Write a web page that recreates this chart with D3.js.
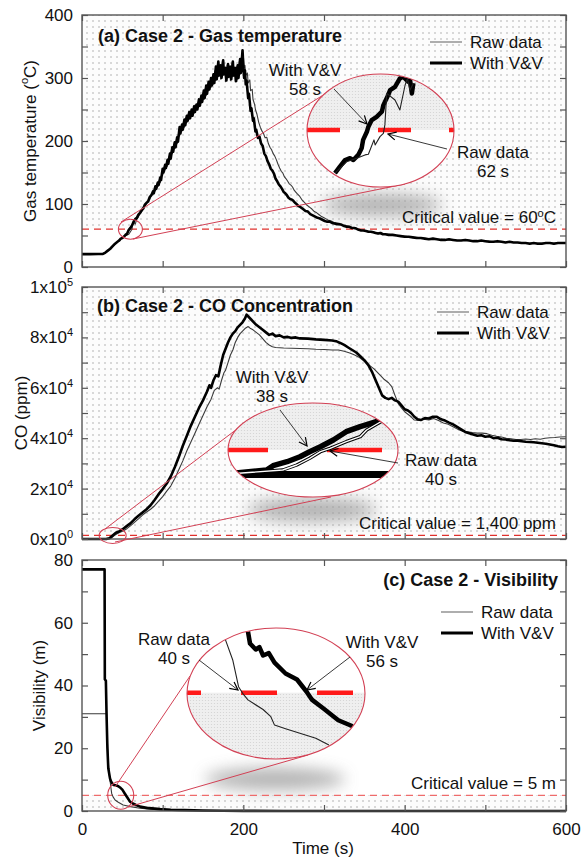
<!DOCTYPE html>
<html><head><meta charset="utf-8">
<script src="https://cdn.jsdelivr.net/npm/d3@7/dist/d3.min.js"></script>
<style>body{margin:0;background:#fff}svg{display:block;font-family:Arial,"Liberation Sans",sans-serif}</style>
</head><body><svg id="c" width="584" height="858"></svg>
<script>
// ---------------- DATA ----------------
const timeTicks = [0,100,200,300,400,500,600];
const timeLabels = [0,200,400,600];
const seriesNames = ["Raw data","With V&V"];

// (a) gas temperature [time s, °C]
const tempRaw = [[0,20.5],[26,20.8],[29,23],[32,26],[35,29],[38,32],[41,36],[44,40],[46,41],[48,44],[50,46],[52,49],[54,50],[56,51],[58,52],[60,56],[62,60],[63,70],[64,72],[66,68],[68,76],[70,80],[72,85],[74,88],[76,95],[78,97],[80,100],[82,106],[84,108],[86,115],[88,118],[90,124],[91,121],[93,132],[94,128],[96,138],[97,134],[99,150],[100,146],[102,158],[103,154],[105,166],[106,160],[108,176],[109,170],[111,186],[112,180],[114,195],[115,188],[117,202],[118,196],[120,214],[121,208],[123,224],[124,216],[126,230],[127,222],[129,238],[130,229],[132,244],[133,235],[135,248],[136,240],[138,252],[139,244],[141,257],[142,250],[144,262],[145,254],[147,270],[148,260],[150,276],[151,266],[153,284],[154,272],[156,290],[157,280],[159,296],[160,285],[162,302],[163,290],[165,312],[166,296],[168,322],[169,302],[171,318],[172,298],[174,326],[175,304],[177,314],[178,294],[180,320],[181,300],[183,316],[184,296],[186,324],[187,302],[189,314],[190,294],[192,318],[193,298],[195,326],[196,306],[198,336],[199,312],[200,336],[201,316],[202,320],[203,304],[205,308],[206,292],[208,297],[209,280],[211,282],[212,266],[214,258],[215,250],[217,242],[219,230],[221,222],[223,216],[225,212],[227,205],[229,206],[231,196],[233,190],[235,186],[237,180],[239,176],[241,170],[243,163],[245,157],[247,152],[249,149],[251,143],[253,140],[255,136],[257,132],[259,130],[261,127],[263,122],[265,119],[267,116],[270,112],[273,106],[276,102],[279,98],[282,95],[285,92],[288,88],[291,86],[294,83],[297,80],[300,78],[303,76],[306,74],[309,73],[312,71],[315,70],[318,69],[321,68],[324,66],[327,66],[330,65],[333,64],[336,62],[339,61],[342,60],[345,59],[348,58],[351,57],[354,57],[357,56],[360,55],[363,55],[366,54],[369,53],[372,53],[376,52],[380,52],[385,51],[390,50],[395,50],[400,49],[405,48],[410,47],[415,47],[420,46],[425,45],[430,45],[435,44],[440,44],[445,44],[450,43],[455,43],[460,43],[465,42],[470,42],[475,42],[480,42],[485,42],[490,41],[495,41],[500,41],[505,41],[510,40],[520,40],[530,39],[540,39],[550,38],[560,38],[570,38],[580,38],[590,38],[600,38]];
const tempVV = [[0,20.5],[10,20.5],[20,20.6],[26,20.8],[29,23],[32,26],[35,29],[38,33],[41,37],[44,40],[46,42],[48,45],[50,46],[52,48],[54,51],[56,53],[58,59],[60,62],[62,66],[64,72],[66,76],[68,78],[70,83],[72,86],[74,90],[76,93],[78,99],[80,102],[82,104],[84,111],[86,114],[88,120],[89,117],[91,128],[92,124],[94,134],[95,130],[97,142],[98,138],[100,156],[101,150],[103,162],[104,157],[106,170],[107,164],[109,180],[110,172],[112,190],[113,183],[115,198],[116,190],[118,206],[119,199],[121,222],[122,212],[124,226],[125,218],[127,234],[128,225],[130,240],[131,232],[133,246],[134,236],[136,250],[137,240],[139,255],[140,246],[142,258],[143,250],[145,266],[146,256],[148,272],[149,262],[151,280],[152,268],[154,288],[155,275],[157,294],[158,282],[160,300],[161,288],[163,306],[164,292],[166,318],[167,298],[169,326],[170,304],[172,320],[173,300],[175,328],[176,306],[178,316],[179,296],[181,322],[182,302],[184,318],[185,298],[187,326],[188,304],[190,316],[191,295],[193,320],[194,300],[196,330],[197,308],[199,344],[200,318],[201,300],[202,312],[203,290],[204,296],[206,268],[207,275],[209,248],[210,252],[212,232],[213,236],[215,215],[216,218],[218,205],[220,207],[222,196],[224,192],[226,180],[228,176],[230,168],[232,163],[234,156],[236,153],[238,148],[240,140],[242,136],[244,131],[246,128],[248,124],[250,119],[252,117],[254,114],[256,110],[258,108],[260,107],[262,105],[264,102],[266,100],[268,97],[271,95],[274,92],[277,89],[280,88],[283,84],[286,82],[289,80],[292,78],[295,77],[298,75],[301,73],[304,72],[307,72],[310,70],[313,69],[316,68],[319,68],[322,67],[325,65],[328,64],[331,64],[334,62],[337,62],[340,61],[343,59],[346,58],[349,58],[352,57],[355,56],[358,56],[361,55],[364,54],[367,53],[370,54],[373,52],[376,52],[380,51],[385,51],[390,50],[395,49],[400,48],[405,48],[410,47],[415,46],[420,46],[425,45],[430,44],[435,45],[440,44],[445,43],[450,43],[455,44],[460,43],[465,42],[470,42],[475,43],[480,42],[485,41],[490,41],[495,42],[500,41],[505,40],[510,40],[515,41],[520,40],[525,39],[530,40],[535,39],[540,39],[545,38],[550,38],[555,37],[560,38],[565,37],[570,37],[575,38],[580,38],[585,37],[590,38],[595,38],[600,38]];
const tempTicks = [0,100,200,300,400];
const tempMinor = [50,150,250,350];
const tempCritical = 60;
// zoomed detail around 60 °C crossing
const tempRawZoom = [[49.2,45.6],[52.3,49.4],[55,50.6],[57.2,51.7],[58.1,51.9],[59.6,56.7],[59.9,55],[61.2,57.8],[62.1,58.9],[62.5,61.7],[63,72.2],[65.2,70],[66.5,66.7],[67.9,75],[68.5,77.2],[69.2,73.3],[70.1,75.6]];
const tempVVZoom = [[49.2,45.6],[50.5,47.8],[51.9,50],[53.2,50.6],[54.1,50],[55.4,51.7],[56.3,53.9],[56.7,56.7],[57.7,59.4],[58.1,61.1],[59,63.3],[60.3,64.4],[61.7,66.1],[62.1,68.3],[63.4,71.7],[63.9,73.3],[65.2,74.4],[66.5,77.2],[67.4,77.8],[68.7,76.1],[69.2,76.7],[69.7,72.2],[70.1,75.6]];

// (b) CO concentration [time s, x10^4 ppm]
const coRaw = [[0,0],[32,0],[36,0.03],[40,0.14],[44,0.22],[48,0.28],[52,0.34],[56,0.42],[60,0.52],[65,0.66],[70,0.8],[75,0.95],[80,1.07],[85,1.18],[90,1.32],[95,1.5],[100,1.68],[105,1.9],[110,2.1],[115,2.4],[120,2.75],[125,3.1],[130,3.5],[135,3.85],[140,4.2],[145,4.55],[150,4.9],[155,5.25],[160,5.55],[164,5.9],[168,6.0],[170,5.95],[173,6.3],[176,6.6],[178,6.7],[181,7.0],[184,7.3],[187,7.5],[190,7.8],[193,8.0],[196,8.15],[199,8.25],[202,8.35],[206,8.43],[209,8.35],[212,8.3],[216,8.2],[220,8.1],[224,7.95],[228,7.8],[232,7.7],[236,7.63],[240,7.6],[250,7.58],[260,7.57],[270,7.56],[280,7.55],[290,7.53],[300,7.52],[310,7.5],[318,7.5],[325,7.45],[332,7.38],[338,7.3],[344,7.2],[350,7.05],[356,6.9],[362,6.75],[368,6.55],[374,6.35],[380,6.2],[384,6.05],[388,5.7],[392,5.38],[396,5.2],[400,5.05],[404,4.95],[408,4.85],[412,4.72],[418,4.7],[424,4.75],[430,4.72],[436,4.78],[442,4.7],[448,4.6],[454,4.55],[460,4.45],[466,4.35],[472,4.28],[478,4.25],[484,4.22],[490,4.2],[496,4.2],[502,4.18],[508,4.12],[514,4.08],[520,4.05],[526,4.0],[532,3.98],[538,3.95],[544,3.95],[550,3.97],[556,3.95],[562,3.98],[568,3.96],[574,4.0],[580,4.02],[586,4.03],[592,4.05],[600,4.06]];
const coVV = [[0,0],[30,0],[34,0.03],[38,0.14],[42,0.25],[46,0.3],[50,0.38],[55,0.5],[60,0.62],[65,0.78],[70,0.92],[75,1.05],[80,1.18],[85,1.34],[90,1.55],[95,1.78],[100,1.98],[105,2.2],[110,2.48],[115,2.85],[120,3.25],[125,3.7],[130,4.1],[135,4.5],[140,4.85],[145,5.2],[150,5.5],[155,5.85],[158,6.1],[160,6.0],[163,6.3],[166,6.5],[169,6.45],[172,6.9],[175,7.3],[178,7.55],[181,7.8],[184,8.0],[187,8.15],[190,8.25],[193,8.4],[196,8.5],[199,8.6],[202,8.75],[204,8.9],[207,8.8],[210,8.7],[213,8.6],[216,8.5],[220,8.4],[224,8.3],[228,8.2],[232,8.1],[236,8.15],[240,8.05],[245,8.08],[250,8.0],[255,8.02],[260,7.98],[265,8.0],[270,7.96],[280,7.95],[290,7.92],[300,7.9],[310,7.88],[315,7.85],[320,7.78],[325,7.7],[330,7.6],[335,7.5],[340,7.4],[345,7.25],[350,7.1],[355,6.9],[360,6.6],[364,6.3],[368,6.0],[372,5.7],[376,5.6],[380,5.55],[384,5.6],[388,5.5],[392,5.45],[396,5.3],[400,5.15],[404,5.1],[408,5.0],[412,4.85],[416,4.75],[420,4.72],[425,4.8],[430,4.78],[435,4.85],[440,4.85],[445,4.75],[450,4.7],[455,4.62],[460,4.55],[465,4.45],[470,4.35],[475,4.25],[480,4.2],[485,4.15],[490,4.1],[495,4.12],[500,4.06],[505,4.08],[510,4.0],[515,4.02],[520,3.96],[525,3.95],[530,3.92],[535,3.9],[540,3.9],[545,3.88],[550,3.86],[555,3.85],[560,3.84],[565,3.82],[570,3.8],[575,3.78],[580,3.75],[585,3.72],[590,3.68],[595,3.65],[600,3.66]];
const coTicks = [0,2,4,6,8,10];
const coMinor = [1,3,5,7,9];
const coTickMantissa = ["0","2","4","6","8","1"];
const coTickExponent = ["0","4","4","4","4","5"];
const coCritical = 0.14; // 1,400 ppm
const coRawZoom = [[30,0],[35.7,0.0257],[37,0.0543],[38.2,0.0926],[39.2,0.1303],[40.1,0.1497],[41.6,0.1874],[42.9,0.216],[43.5,0.2543],[45.1,0.3114]];
const coVVZoom = [[30,0],[34.2,0.0257],[34.8,0.0503],[36.1,0.0731],[37.3,0.1017],[38.2,0.1303],[39.2,0.1589],[40.4,0.1971],[41.6,0.2446],[42.9,0.2731],[44.4,0.3017],[45.1,0.3211]];

// (c) visibility [time s, m]
const visRaw = [[0,31],[30.5,31],[31.5,22],[32.5,16],[33.5,12],[34.7,9.9],[35.8,7.5],[36.8,5.6],[38.5,4.5],[41,3.5],[45,2.8],[51,1.9],[60,1.4],[72,0.9],[85,0.55],[97,0.3],[120,0.12],[150,0.05],[200,0.01],[600,0]];
const visVV = [[0,77],[28,77],[28.3,42],[29.6,41.5],[30.5,30],[31.5,20],[32.6,13.6],[34.7,10.4],[36,9.4],[39,8.3],[42,8.2],[45,7.9],[48,7.3],[50,6.8],[53,5.6],[56,4.4],[59.5,3.0],[63,2.4],[67,1.9],[72,1.4],[80,1.0],[90,0.75],[97,0.6],[110,0.42],[127,0.3],[150,0.18],[175,0.1],[200,0.05],[250,0.02],[300,0],[600,0]];
const visTicks = [0,20,40,60,80];
const visMinor = [10,30,50,70];
const visCritical = 5;
const visRawZoom = [[36.3,9.4],[38.1,7.7],[39.5,5.5],[40.5,4.95],[41.8,4.4],[45.5,3.6],[47.4,3.0],[48.3,2.3],[51,2.0],[54.7,1.6],[58.4,1.2],[61.6,0.64]];
const visVVZoom = [[41.8,10.1],[42.3,9.1],[43.7,8.6],[44.6,8.8],[45.5,8.1],[46.9,8.3],[48.3,7.5],[51,6.6],[53.8,6.1],[56.1,5.1],[57.5,4.4],[60.2,3.7],[63.9,2.7],[67.4,2.2]];

// ---------------- DRAW ----------------
const svg = d3.select("#c");
const defs = svg.append("defs");
const X0 = 82, X1 = 566;
const RED = "#d24054";

const p1 = defs.append("pattern").attr("id","dots").attr("width",6).attr("height",6).attr("patternUnits","userSpaceOnUse");
p1.append("rect").attr("width",6).attr("height",6).attr("fill","#fcfcfc");
p1.append("circle").attr("cx",3).attr("cy",3).attr("r",0.7).attr("fill","#9a9a9a");
const p2 = defs.append("pattern").attr("id","fine").attr("width",3).attr("height",3).attr("patternUnits","userSpaceOnUse");
p2.append("rect").attr("width",3).attr("height",3).attr("fill","#efefef");
p2.append("circle").attr("cx",1.5).attr("cy",1.5).attr("r",0.6).attr("fill","#d2d2d2");
const blur = defs.append("filter").attr("id","blur").attr("x","-50%").attr("y","-200%").attr("width","200%").attr("height","500%");
blur.append("feGaussianBlur").attr("stdDeviation",8);
const mk = defs.append("marker").attr("id","arr").attr("viewBox","0 0 10 10").attr("refX",9).attr("refY",5)
  .attr("markerWidth",10).attr("markerHeight",10).attr("markerUnits","userSpaceOnUse").attr("orient","auto");
mk.append("path").attr("d","M1,1 L9,5 L1,9").attr("fill","none").attr("stroke","#000").attr("stroke-width",1.2);

const x = d3.scaleLinear().domain([0,600]).range([X0,X1]);

function panel(cfg){
  const g = svg.append("g");
  const y = cfg.y;
  const [top,bot] = [y.range()[1], y.range()[0]];
  const cy = y(cfg.critical);
  if (cfg.dangerAbove) g.append("rect").attr("x",X0).attr("y",top).attr("width",X1-X0).attr("height",cy-top).attr("fill","url(#dots)");
  else g.append("rect").attr("x",X0).attr("y",cy).attr("width",X1-X0).attr("height",bot-cy).attr("fill","url(#dots)");
  g.append("ellipse").attr("cx",cfg.shadow[0]).attr("cy",cfg.shadow[1]).attr("rx",cfg.shadow[2]).attr("ry",cfg.shadow[3])
    .attr("fill","#9a9a9a").attr("opacity",0.75).attr("filter","url(#blur)");
  g.append("line").attr("x1",X0).attr("x2",X1).attr("y1",cy).attr("y2",cy)
    .attr("stroke",cfg.critColor).attr("stroke-width",1.3).attr("stroke-dasharray","7,5");
  const line = d3.line().x(d=>x(d[0])).y(d=>y(d[1]));
  g.append("path").datum(cfg.raw).attr("d",line).attr("fill","none").attr("stroke","#3a3a3a").attr("stroke-width",1.1).attr("stroke-linejoin","round");
  g.append("path").datum(cfg.vv).attr("d",line).attr("fill","none").attr("stroke","#000").attr("stroke-width",2.6).attr("stroke-linejoin","round");
  const allY = cfg.ticks.concat(cfg.minor);
  const la = g.append("g").attr("transform",`translate(${X0},0)`)
    .call(d3.axisLeft(y).tickValues(allY).tickSize(-6).tickPadding(9).tickFormat(d=>cfg.ticks.includes(d)?String(d):""));
  g.append("g").attr("transform",`translate(${X1},0)`).call(d3.axisRight(y).tickValues(allY).tickSize(-6).tickFormat(""));
  g.append("g").attr("transform",`translate(0,${top})`).call(d3.axisTop(x).tickValues(timeTicks).tickSize(-6).tickFormat(""));
  g.append("g").attr("transform",`translate(0,${bot})`)
    .call(d3.axisBottom(x).tickValues(timeTicks).tickSize(-6).tickPadding(12).tickFormat(d=>cfg.xlabels && timeLabels.includes(d)?String(d):""));
  g.selectAll(".domain").remove();
  g.selectAll(".tick line").attr("stroke","#555").attr("stroke-width",1.2);
  g.selectAll(".tick text").attr("font-size",17).attr("fill","#111").attr("font-family",'Arial,"Liberation Sans",sans-serif');
  if (cfg.tickLabel) la.selectAll(".tick text").each(function(d){ cfg.tickLabel(d3.select(this), d); });
  g.append("rect").attr("x",X0).attr("y",top).attr("width",X1-X0).attr("height",bot-top)
    .attr("fill","none").attr("stroke","#555").attr("stroke-width",1.4);
  const yl = g.append("text").attr("transform",`translate(${cfg.ylabelX},${(top+bot)/2}) rotate(-90)`)
    .attr("text-anchor","middle").attr("dominant-baseline","central").attr("font-size",17).attr("fill","#111");
  cfg.ylabel(yl);
  const sc = [x(cfg.spot[0]), y(cfg.spot[1])];
  cfg.connectors.forEach(c=>{
    g.append("line").attr("x1",c[0]).attr("y1",c[1]).attr("x2",c[2]).attr("y2",c[3]).attr("stroke",RED).attr("stroke-width",1);
  });
  g.append("ellipse").attr("cx",sc[0]).attr("cy",sc[1]).attr("rx",cfg.spotR[0]).attr("ry",cfg.spotR[1])
    .attr("fill","none").attr("stroke",RED).attr("stroke-width",1.1);
  const E = cfg.ell;
  const cid = "clip"+cfg.id;
  defs.append("clipPath").attr("id",cid).append("ellipse").attr("cx",E[0]).attr("cy",E[1]).attr("rx",E[2]).attr("ry",E[3]);
  const ig = g.append("g").attr("clip-path",`url(#${cid})`);
  ig.append("rect").attr("x",E[0]-E[2]).attr("y",E[1]-E[3]).attr("width",2*E[2]).attr("height",2*E[3]).attr("fill","#fff");
  const zx = cfg.zx, zy = cfg.zy;
  const zc = zy(cfg.critical);
  if (cfg.dangerAbove) ig.append("rect").attr("x",E[0]-E[2]).attr("y",E[1]-E[3]).attr("width",2*E[2]).attr("height",zc-(E[1]-E[3])).attr("fill","url(#fine)");
  else ig.append("rect").attr("x",E[0]-E[2]).attr("y",zc).attr("width",2*E[2]).attr("height",E[1]+E[3]-zc).attr("fill","url(#fine)");
  if (cfg.zBand) ig.append("line").attr("x1",E[0]-E[2]).attr("x2",E[0]+E[2]).attr("y1",zy(0)).attr("y2",zy(0)).attr("stroke","#000").attr("stroke-width",7);
  ig.append("line").attr("x1",cfg.dashStart).attr("x2",E[0]+E[2]).attr("y1",zc).attr("y2",zc)
    .attr("stroke","#ff1a1a").attr("stroke-width",4.5).attr("stroke-dasharray",cfg.dash);
  const zl = d3.line().x(d=>zx(d[0])).y(d=>zy(d[1]));
  ig.append("path").datum(cfg.vvZ).attr("d",zl).attr("fill","none").attr("stroke","#000").attr("stroke-width",cfg.zThick).attr("stroke-linejoin","round");
  if (cfg.zOutline) {
    ig.append("path").datum(cfg.rawZ).attr("d",zl).attr("fill","none").attr("stroke","#000").attr("stroke-width",3.4).attr("stroke-linejoin","round");
    ig.append("path").datum(cfg.rawZ).attr("d",zl).attr("fill","none").attr("stroke","#fff").attr("stroke-width",1.4).attr("stroke-linejoin","round");
  } else {
    ig.append("path").datum(cfg.rawZ).attr("d",zl).attr("fill","none").attr("stroke","#222").attr("stroke-width",1.1).attr("stroke-linejoin","round");
  }
  g.append("ellipse").attr("cx",E[0]).attr("cy",E[1]).attr("rx",E[2]).attr("ry",E[3]).attr("fill","none").attr("stroke",RED).attr("stroke-width",1.1);
  cfg.notes.forEach(n=>{
    g.append("line").attr("x1",n.a[0]).attr("y1",n.a[1]).attr("x2",n.a[2]).attr("y2",n.a[3]).attr("stroke","#222").attr("stroke-width",0.9).attr("marker-end","url(#arr)");
    n.lines.forEach((s,i)=>g.append("text").attr("x",n.x).attr("y",n.y+i*19).attr("text-anchor","middle").attr("font-size",17).attr("fill","#111").text(s));
  });
  const ct = g.append("text").attr("x",556).attr("y",cfg.critY).attr("text-anchor","end").attr("font-size",17).attr("fill","#111");
  cfg.critText(ct);
  g.append("text").attr("x",cfg.title[1]).attr("y",cfg.title[2]).attr("text-anchor",cfg.title[3]).attr("font-size",18).attr("font-weight","bold").attr("fill","#111").text(cfg.title[0]);
  const L = cfg.legend;
  [[seriesNames[0],"#777",1.2],[seriesNames[1],"#000",3]].forEach((s,i)=>{
    const yy = L[1]+i*21;
    g.append("line").attr("x1",L[0]).attr("x2",L[0]+32).attr("y1",yy).attr("y2",yy).attr("stroke",s[1]).attr("stroke-width",s[2]);
    g.append("text").attr("x",L[0]+40).attr("y",yy).attr("dominant-baseline","central").attr("font-size",17).attr("fill","#111").text(s[0]);
  });
}

panel({
  id:"a", y:d3.scaleLinear().domain([0,400]).range([267,15]),
  ticks:tempTicks, minor:tempMinor, critical:tempCritical, dangerAbove:true, critColor:"#e0302c",
  raw:tempRaw, vv:tempVV, shadow:[382,205,60,11], ylabelX:30,
  ylabel:t=>{t.append("tspan").text("Gas temperature (");t.append("tspan").attr("font-size",11).attr("dy",-6).text("o");t.append("tspan").attr("dy",6).text("C)");},
  spot:[60,60], spotR:[12,10], connectors:[[121,222,336,87],[133,239,405,184]],
  ell:[380.5,130.5,73.5,56.5], zx:d3.scaleLinear().domain([58,62]).range([368,383]), zy:d3.scaleLinear().domain([60,70]).range([130,100]),
  rawZ:tempRawZoom, vvZ:tempVVZoom, zThick:4.5, dashStart:307, dash:"33,38",
  notes:[{x:305,y:76,lines:["With V&V","58 s"],a:[334,89,367,124]},{x:493,y:158,lines:["Raw data","62 s"],a:[447,149,388,134]}],
  critY:223, critText:t=>{t.append("tspan").text("Critical value = 60");t.append("tspan").attr("font-size",11).attr("dy",-6).text("o");t.append("tspan").attr("dy",6).text("C");},
  title:["(a) Case 2 - Gas temperature",98,42,"start"], legend:[430,42]
});
panel({
  id:"b", y:d3.scaleLinear().domain([0,10]).range([539,287]),
  ticks:coTicks, minor:coMinor, critical:coCritical, dangerAbove:true, critColor:"#e0302c",
  raw:coRaw, vv:coVV, shadow:[312,510,65,12], ylabelX:21,
  ylabel:t=>t.text("CO (ppm)"),
  tickLabel:(t,d)=>{const i=coTicks.indexOf(d); if(i<0) return; t.text(null);
    t.append("tspan").text(coTickMantissa[i]+"x10"); t.append("tspan").attr("font-size",11).attr("dy",-7).text(coTickExponent[i]);},
  spot:[38,0.14], spotR:[13.5,8], connectors:[[105,529,237,429],[115,542,331,497]],
  ell:[313,450,85,47], zx:d3.scaleLinear().domain([38,40]).range([307.5,329]), zy:d3.scaleLinear().domain([0,0.14]).range([474.5,450]),
  rawZ:coRawZoom, vvZ:coVVZoom, zThick:5.5, zOutline:true, zBand:true, dashStart:228, dash:"40,59,55,100",
  notes:[{x:272,y:383,lines:["With V&V","38 s"],a:[280,410,307,446]},{x:441,y:466,lines:["Raw data","40 s"],a:[398,463,330,451]}],
  critY:529, critText:t=>t.text("Critical value = 1,400 ppm"),
  title:["(b) Case 2 - CO Concentration",97,312,"start"], legend:[437,312]
});
panel({
  id:"c", y:d3.scaleLinear().domain([0,80]).range([811,560]),
  ticks:visTicks, minor:visMinor, critical:visCritical, dangerAbove:false, critColor:"#ee6b6b",
  raw:visRaw, vv:visVV, shadow:[275,779,70,11], ylabelX:39, xlabels:true,
  ylabel:t=>t.text("Visibility (m)"),
  spot:[48,5], spotR:[13,14], connectors:[[115,787,190,676],[128,807,308,755]],
  ell:[276,693.5,89,65.5], zx:d3.scaleLinear().domain([40,56]).range([240.6,306]), zy:d3.scaleLinear().domain([5,10]).range([692.7,632.7]),
  rawZ:visRawZoom, vvZ:visVVZoom, zThick:4.5, dashStart:165, dash:"36,40",
  notes:[{x:174,y:645,lines:["Raw data","40 s"],a:[199,660,238,690]},{x:382,y:648,lines:["With V&V","56 s"],a:[350,657,307,690]}],
  critY:789, critText:t=>t.text("Critical value = 5 m"),
  title:["(c) Case 2 - Visibility",558,586,"end"], legend:[441,612]
});
svg.append("text").attr("x",323).attr("y",854).attr("text-anchor","middle").attr("font-size",17).attr("fill","#111").text("Time (s)");
</script></body></html>
